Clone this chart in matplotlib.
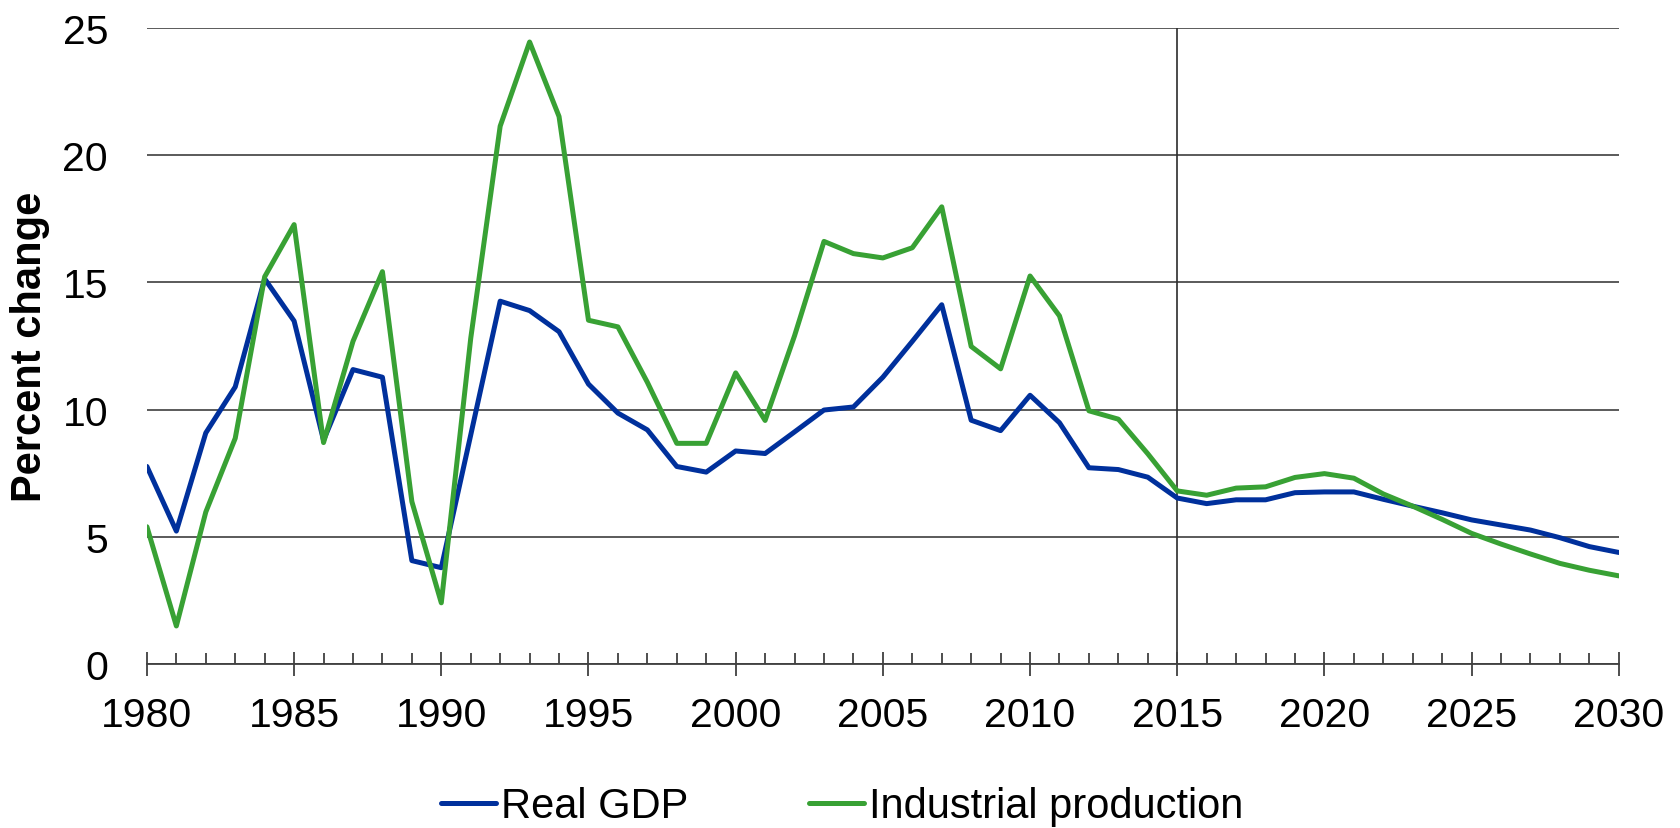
import matplotlib
matplotlib.use("Agg")
import matplotlib.pyplot as plt
from matplotlib.ticker import MultipleLocator
from matplotlib import font_manager

years = list(range(1980, 2031))

real_gdp = [7.76, 5.22, 9.08, 10.89, 15.14, 13.48, 8.79, 11.57, 11.27, 4.06,
            3.78, 9.0, 14.26, 13.89, 13.06, 11.0, 9.86, 9.2, 7.76, 7.54,
            8.37, 8.27, 9.12, 9.98, 10.10, 11.27, 12.68, 14.12, 9.58, 9.17,
            10.56, 9.48, 7.71, 7.64, 7.34, 6.52, 6.30, 6.45, 6.45, 6.73,
            6.76, 6.76, 6.47, 6.20, 5.94, 5.66, 5.46, 5.26, 4.96, 4.61,
            4.38]

industrial_production = [5.39, 1.49, 5.97, 8.87, 15.22, 17.27, 8.70, 12.68, 15.42, 6.38,
                         2.40, 12.8, 21.14, 24.45, 21.52, 13.51, 13.25, 11.07, 8.67, 8.67,
                         11.44, 9.57, 12.9, 16.61, 16.13, 15.96, 16.36, 17.97, 12.48, 11.6,
                         15.25, 13.68, 9.95, 9.62, 8.26, 6.80, 6.63, 6.91, 6.96, 7.33,
                         7.48, 7.30, 6.68, 6.20, 5.68, 5.13, 4.71, 4.32, 3.95, 3.68,
                         3.46]

series_names = ["Real GDP", "Industrial production"]
series_colors = ["#00309C", "#38A134"]
y_ticks = [0, 5, 10, 15, 20, 25]
x_major = list(range(1980, 2031, 5))
forecast_start = 2015

installed = {f.name for f in font_manager.fontManager.ttflist}
base_font = "Liberation Sans" if "Liberation Sans" in installed else "DejaVu Sans"
plt.rcParams["font.family"] = [base_font, "DejaVu Sans"]

fig = plt.figure(figsize=(16.81, 8.29), dpi=100)
ax = fig.add_axes([0.0874, 0.198, 0.8756, 0.767])

for values, name, color in zip([real_gdp, industrial_production], series_names, series_colors):
    ax.plot(years, values, color=color, lw=3.6, label=name,
            solid_joinstyle="round", solid_capstyle="round", zorder=3)

ax.set_xlim(1980, 2030)
ax.set_ylim(0, 25)
ax.set_yticks(y_ticks)
ax.set_xticks(x_major)
ax.xaxis.set_minor_locator(MultipleLocator(1))

ax.grid(axis="y", color="#2e2e2e", lw=1.1, zorder=1)
ax.axvline(forecast_start, color="#1a1a1a", lw=1.1, zorder=1)

for side in ["top", "right", "left"]:
    ax.spines[side].set_visible(False)
ax.spines["bottom"].set_color("#404040")
ax.spines["bottom"].set_linewidth(1.3)
ax.spines["bottom"].set_zorder(4)

ax.tick_params(axis="y", length=0, pad=28, labelsize=29.5, labelcolor="black")
ax.tick_params(axis="x", which="major", direction="inout", length=17, width=1.3,
               color="#404040", pad=15, labelsize=29.5)
ax.tick_params(axis="x", which="minor", direction="in", length=7.7, width=1.3,
               color="#404040")

ax.set_ylabel("Percent change", fontsize=30, fontweight="bold", labelpad=9)

fig.legend(loc="center", bbox_to_anchor=(0.501, 0.026), ncol=2, frameon=False,
           handlelength=1.32, handletextpad=0.12, columnspacing=2.9,
           prop={"size": 30})

fig.savefig("out.png", dpi=100)
